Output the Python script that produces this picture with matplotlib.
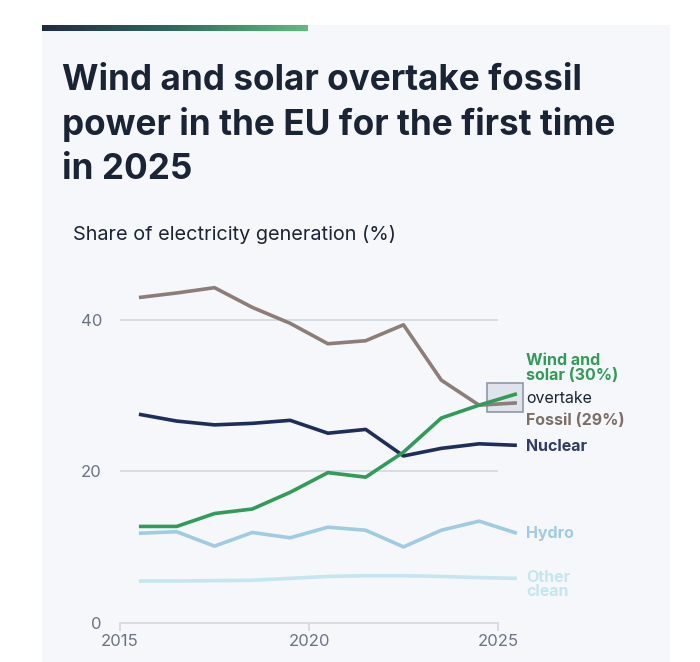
import numpy as np
import matplotlib.pyplot as plt
from matplotlib.patches import Rectangle
from matplotlib.colors import LinearSegmentedColormap

# share of EU electricity generation (%), points sit at mid-year
years = [2015, 2016, 2017, 2018, 2019, 2020, 2021, 2022, 2023, 2024, 2025]
fossil = [42.9, 43.5, 44.2, 41.6, 39.5, 36.8, 37.2, 39.3, 32.0, 28.7, 29.0]
nuclear = [27.5, 26.6, 26.1, 26.3, 26.7, 25.0, 25.5, 22.0, 23.0, 23.6, 23.4]
wind_solar = [12.7, 12.7, 14.4, 15.0, 17.2, 19.8, 19.2, 22.5, 27.0, 28.7, 30.2]
hydro = [11.8, 12.0, 10.1, 11.9, 11.2, 12.6, 12.2, 10.0, 12.2, 13.4, 11.8]
other_clean = [5.5, 5.5, 5.55, 5.6, 5.85, 6.1, 6.2, 6.2, 6.1, 5.95, 5.85]

y_ticks = [0, 20, 40]
x_ticks = [2015, 2020, 2025]

W, H = 700, 662
BG = "#f5f7fa"
TXT = "#1b2435"
GRID = "#d3d8df"
TICK = "#6b7385"

plt.rcParams["font.family"] = ["Inter", "DejaVu Sans"]

fig = plt.figure(figsize=(W / 100, H / 100), dpi=100)
fig.patch.set_facecolor("white")


def px(x, y):
    # pixel coords (from top-left) -> figure fraction
    return x / W, 1 - y / H


# panel background
panel = Rectangle(px(42, 662), 628 / W, 637 / H, transform=fig.transFigure,
                  facecolor=BG, edgecolor="none", zorder=-10)
fig.patches.append(panel)

# gradient bar on top
bar_ax = fig.add_axes([42 / W, 1 - 31 / H, 266 / W, 6 / H])
grad = LinearSegmentedColormap.from_list("bar", ["#1e2a4a", "#2f6b5e", "#5cbf7a"])
bar_ax.imshow(np.linspace(0, 1, 256)[None, :], aspect="auto", cmap=grad)
bar_ax.axis("off")

# title
title_lines = ["Wind and solar overtake fossil",
               "power in the EU for the first time",
               "in 2025"]
for i, line in enumerate(title_lines):
    x0, y0 = px(62, 90 + i * 44.5)
    fig.text(x0, y0, line, fontsize=25.3, fontweight="bold", color=TXT,
             va="baseline", ha="left")

x0, y0 = px(73, 240)
fig.text(x0, y0, "Share of electricity generation (%)", fontsize=14.3,
         color=TXT, va="baseline", ha="left")

# main axes: 2015 -> px 120, 2025 -> px 498, 0 -> px 622.7, 45 -> px 281.6
ax = fig.add_axes([120 / W, (H - 622.7) / H, 378 / W, (45 * 7.58) / H])
ax.set_facecolor("none")
ax.set_xlim(2015, 2025)
ax.set_ylim(0, 45)

xs = np.array(years) + 0.5
series = [
    (other_clean, "#c4e6ee"),
    (hydro, "#9fcbe4"),
    (fossil, "#8c7d78"),
    (nuclear, "#1f2d5c"),
    (wind_solar, "#2f9c58"),
]

# highlight box around the crossover
ax.add_patch(Rectangle((2024.71, 27.8), 0.95, 3.8, facecolor="#dfe4ec",
                       edgecolor="#8f98a8", linewidth=1.2, zorder=1,
                       clip_on=False))

for vals, col in series:
    ax.plot(xs, vals, color=col, linewidth=2.6, solid_capstyle="butt",
            solid_joinstyle="round", clip_on=False, zorder=3)

for s in ["top", "right", "left"]:
    ax.spines[s].set_visible(False)
ax.spines["bottom"].set_color(GRID)
ax.spines["bottom"].set_linewidth(1.2)

ax.set_yticks(y_ticks)
ax.set_yticklabels([str(v) for v in y_ticks])
ax.set_xticks(x_ticks)
ax.set_xticklabels([str(v) for v in x_ticks])
ax.tick_params(axis="y", length=0, pad=13, labelsize=12, labelcolor=TICK)
ax.tick_params(axis="x", length=6, width=1.2, color=GRID, pad=2,
               labelsize=12, labelcolor=TICK)
for v in y_ticks[1:]:
    ax.axhline(v, color=GRID, linewidth=1.2, zorder=0)

# direct labels
lx = 2025.75
lab = dict(fontsize=11.5, fontweight="bold", ha="left", va="center",
           clip_on=False)
ax.text(lx, 33.6, "Wind and\nsolar (30%)", color="#2f9c58",
        linespacing=0.95, **lab)
ax.text(lx, 29.6, "overtake", color=TXT, fontsize=11.5, ha="left",
        va="center")
ax.text(lx, 26.7, "Fossil (29%)", color="#7e6e69", **lab)
ax.text(lx, 23.2, "Nuclear", color="#2e3d6b", **lab)
ax.text(lx, 11.8, "Hydro", color="#9fcbe4", **lab)
ax.text(lx, 5.0, "Other\nclean", color="#c4e6ee", linespacing=0.95, **lab)

fig.savefig("out.png", dpi=100, facecolor="white")
